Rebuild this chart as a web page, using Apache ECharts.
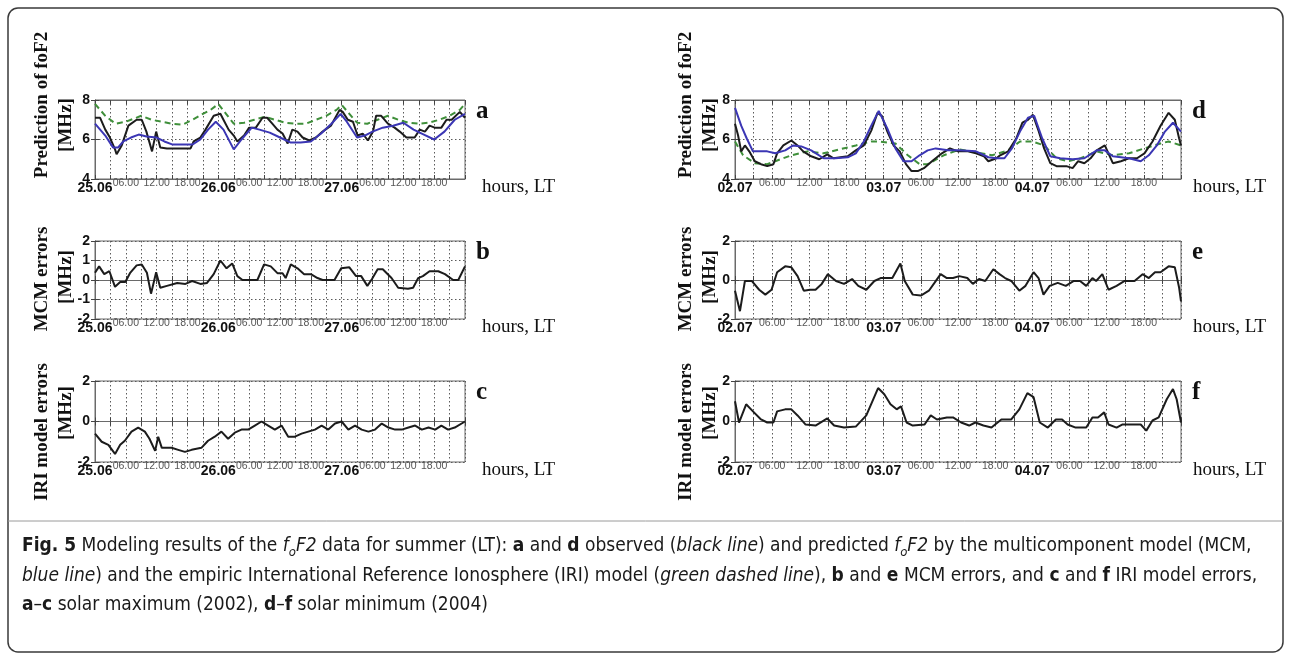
<!DOCTYPE html>
<html>
<head>
<meta charset="utf-8">
<title>foF2 modeling results, summer</title>
<script src="https://cdn.jsdelivr.net/npm/echarts@6/dist/echarts.min.js"></script>
<style>
  html, body { margin: 0; padding: 0; background: #ffffff; }
  #chart { width: 1290px; height: 663px; }
</style>
</head>
<body>
<div id="chart"></div>
<script>
// ---- x axis: hours from the start of each 3-day window ----
const daysMax = ['25.06', '26.06', '27.06'];
const daysMin = ['02.07', '03.07', '04.07'];
const hourLabels = { 6: '06.00', 12: '12.00', 18: '18.00' };

// ---- (a) solar maximum 2002: observed, MCM and IRI foF2 [MHz] as [hour, value] ----
const observedMax = [[0,7.1],[1,7.1],[2,6.5],[2.9,6.1],[3.9,5.5],[4.2,5.25],[5.2,5.7],[6.5,6.7],[8.1,7.0],[9.1,7.0],[10,6.4],[11.1,5.4],[11.9,6.4],[12.7,5.6],[14,5.55],[16,5.55],[18.6,5.55],[19.2,5.9],[20.5,6.1],[21.5,6.5],[23.1,7.2],[24.4,7.3],[25,7.0],[26,6.5],[27,6.2],[27.7,5.9],[29,6.2],[30,6.6],[31.3,6.6],[32.6,7.1],[33.5,7.1],[34.5,6.8],[35.5,6.5],[36.5,6.3],[37.5,5.8],[38.4,6.5],[39.4,6.4],[40.4,6.1],[41.7,5.95],[43,6.1],[44.3,6.4],[45.9,6.7],[47.6,7.5],[48.2,7.4],[49.2,7.0],[50.2,6.9],[51.1,6.2],[52.1,6.3],[53.1,5.95],[54.1,6.4],[54.7,7.2],[55.7,7.2],[57,6.8],[58.3,6.6],[59.3,6.4],[60.6,6.1],[62.2,6.1],[63.2,6.5],[64.2,6.4],[65.1,6.7],[66.1,6.6],[67.4,6.6],[68.4,7.0],[69.4,7.0],[71,7.4],[72,7.1]];
const mcmMax = [[0,6.8],[2,6.2],[3.5,5.6],[4.5,5.6],[5.5,5.9],[7,6.1],[8.5,6.25],[10,6.15],[12,6.1],[13.5,5.9],[15,5.75],[17,5.75],[19,5.75],[20.5,6.0],[22,6.5],[23.5,6.9],[25,6.5],[27,5.5],[28.5,6.0],[30.5,6.6],[32,6.5],[34,6.35],[36,6.1],[38,5.85],[40,5.85],[42,5.9],[44,6.3],[46,6.8],[47.8,7.3],[49,6.9],[51,6.1],[52.5,6.2],[54,6.4],[56,6.6],[58,6.7],[60,6.85],[62,6.5],[64,6.25],[66,6.0],[68,6.4],[70,7.0],[72,7.3]];
const iriMax = [[0,7.8],[2,7.2],[4,6.8],[6,6.9],[9,7.2],[11,7.0],[13,6.9],[15,6.8],[17,6.75],[19,7.0],[21,7.3],[22.5,7.5],[24,7.8],[25.5,7.3],[27,6.8],[29,6.85],[31,7.0],[33,7.15],[35,7.0],[37,6.85],[39,6.8],[41,6.8],[43,7.0],[45,7.2],[47,7.5],[48,7.75],[49.5,7.3],[51,6.85],[53,6.8],[55,7.0],[57,7.2],[59,7.0],[61,6.85],[63,6.8],[65,6.85],[67,7.0],[69,7.2],[71,7.5],[72,7.8]];

// ---- (b) MCM errors, (c) IRI errors, solar maximum [MHz] ----
const mcmErrMax = [[0,0.37],[0.8,0.7],[1.8,0.3],[2.8,0.45],[3.9,-0.35],[4.9,-0.1],[5.9,-0.1],[6.8,0.35],[8.1,0.75],[9.1,0.8],[10.1,0.37],[10.9,-0.7],[11.9,0.4],[12.7,-0.4],[14,-0.3],[16,-0.15],[17.6,-0.2],[18.9,-0.05],[20.5,-0.2],[21.8,-0.15],[23.1,0.3],[24.4,1.0],[25.6,0.6],[26.7,0.85],[27.7,0.2],[28.7,0.0],[31.6,0.0],[32.9,0.8],[34.2,0.7],[35.5,0.35],[36.5,0.35],[37.1,0.1],[38.1,0.8],[39.4,0.6],[40.7,0.3],[42,0.3],[43.3,0.1],[44.3,0.0],[46.6,0.0],[47.9,0.6],[49.5,0.65],[50.8,0.2],[51.8,0.2],[53,-0.3],[53.9,0.05],[55,0.55],[56,0.55],[57.7,0.1],[59,-0.4],[60.9,-0.45],[61.9,-0.4],[62.9,0.1],[63.8,0.2],[65.1,0.45],[66.8,0.45],[68.1,0.3],[69.7,0.0],[70.7,0.0],[72,0.7]];
const iriErrMax = [[0,-0.6],[1.3,-1.0],[2.6,-1.15],[3.9,-1.6],[4.9,-1.15],[5.8,-0.95],[7.1,-0.5],[8.4,-0.3],[9.7,-0.5],[10.6,-0.85],[11.7,-1.45],[12.3,-0.75],[13,-1.3],[14.9,-1.3],[16.2,-1.4],[17.5,-1.5],[18.8,-1.4],[20.7,-1.3],[22,-0.95],[23.3,-0.75],[24.6,-0.5],[25.9,-0.85],[27.2,-0.55],[28.5,-0.4],[29.8,-0.4],[31.1,-0.2],[32.4,0.0],[33.7,-0.2],[35,-0.4],[36.3,-0.2],[37.6,-0.75],[38.9,-0.75],[40.2,-0.6],[41.5,-0.5],[42.8,-0.4],[44.1,-0.2],[45.4,-0.4],[46.7,-0.1],[48,0.0],[49.3,-0.4],[50.6,-0.2],[51.9,-0.4],[53.2,-0.5],[54.5,-0.4],[55.8,-0.1],[57.1,-0.3],[58.4,-0.4],[59.7,-0.4],[61,-0.3],[62.3,-0.2],[63.6,-0.4],[64.9,-0.3],[66.2,-0.4],[67.4,-0.2],[68.7,-0.4],[70,-0.3],[72,0.0]];

// ---- (d) solar minimum 2004: observed, MCM and IRI foF2 [MHz] ----
const observedMin = [[0,6.8],[0.5,6.2],[1,5.4],[1.6,5.7],[2.3,5.4],[3.2,4.9],[4.2,4.75],[5.2,4.65],[6.2,4.75],[6.8,5.3],[7.8,5.7],[9.1,5.95],[10.1,5.7],[11,5.4],[12.3,5.15],[13.6,5.0],[14.9,5.25],[15.9,5.05],[18.2,5.15],[19.5,5.45],[20.8,5.7],[22,6.45],[23,7.35],[23.7,7.2],[24.6,6.4],[25.6,5.7],[26.6,5.4],[27.6,4.75],[28.5,4.4],[29.5,4.4],[30.5,4.55],[31.8,4.9],[33.4,5.3],[34.7,5.55],[36,5.4],[37.6,5.4],[38.9,5.3],[40.2,5.15],[40.9,4.9],[42.2,5.05],[42.8,5.2],[44.1,5.4],[45.4,6.05],[46.4,6.85],[47.3,7.0],[48.1,7.25],[49,6.45],[49.9,5.55],[50.9,4.8],[51.9,4.65],[53.5,4.65],[54.5,4.55],[55.4,4.9],[56.4,4.8],[57.4,5.05],[58.4,5.45],[59.7,5.7],[61,4.8],[62.3,4.9],[63.6,5.05],[64.9,5.05],[66.1,5.3],[67.4,5.9],[68.7,6.7],[70,7.35],[71,7.0],[71.7,6.05],[72,5.7]];
const mcmMin = [[0,7.6],[1,6.7],[1.9,6.05],[2.9,5.4],[5.2,5.4],[6.5,5.3],[8.1,5.45],[9.4,5.7],[10.7,5.65],[12.3,5.45],[14.3,5.05],[16.2,5.05],[18.2,5.1],[19.5,5.3],[20.8,5.9],[22,6.7],[23.2,7.45],[24.6,6.55],[25.9,5.55],[27.2,4.9],[28.5,4.9],[29.8,5.2],[31.1,5.45],[32.4,5.55],[34.4,5.45],[36.3,5.45],[38.9,5.4],[40.9,5.1],[42.2,5.05],[43.5,5.05],[44.7,5.55],[46,6.4],[47.3,7.1],[48.3,7.2],[49.6,6.05],[50.9,5.15],[52.5,5.05],[54.5,5.0],[56.4,5.05],[58.4,5.45],[59.7,5.45],[61,5.15],[63.6,5.05],[65.5,4.9],[66.8,5.2],[68.1,5.7],[69.4,6.4],[70.7,6.85],[72,6.4]];
const iriMin = [[0,5.9],[1.3,5.2],[3.2,4.8],[5.2,4.75],[6.5,4.9],[9.1,5.2],[11.7,5.4],[14.3,5.3],[16.9,5.5],[19.5,5.7],[22,5.9],[23.3,5.9],[25.9,5.8],[27.9,5.2],[29.8,4.75],[31.1,4.75],[33.7,5.2],[36.3,5.5],[38.9,5.35],[41.5,5.2],[44.1,5.45],[46,5.9],[48,5.9],[49.9,5.7],[51.9,5.05],[53.8,4.9],[55.8,5.05],[58.4,5.4],[61,5.2],[63.6,5.3],[66.1,5.55],[68.7,5.8],[70,5.9],[72,5.7]];

// ---- (e) MCM errors, (f) IRI errors, solar minimum [MHz] ----
const mcmErrMin = [[0,-0.55],[0.8,-1.6],[1.6,-0.05],[2.7,-0.05],[3.9,-0.5],[4.9,-0.75],[5.9,-0.5],[6.8,0.4],[8.1,0.7],[9.1,0.65],[10.1,0.2],[11.1,-0.55],[12.1,-0.5],[13,-0.5],[14,-0.2],[15,0.3],[16.3,-0.05],[17.6,-0.2],[18.9,0.05],[19.9,-0.3],[21.2,-0.5],[22.5,-0.05],[23.5,0.1],[25.4,0.1],[26.7,0.85],[27.4,-0.05],[28.7,-0.75],[30,-0.8],[31.3,-0.55],[32.2,-0.15],[33.2,0.3],[34.2,0.1],[35.2,0.1],[36.2,0.2],[37.5,0.1],[38.4,-0.2],[39.4,0.05],[40.4,-0.05],[41.7,0.55],[42.7,0.3],[43.6,0.1],[44.6,-0.05],[45.9,-0.55],[46.9,-0.3],[48.2,0.4],[49,0.1],[49.8,-0.75],[50.8,-0.3],[52.1,-0.15],[53.4,-0.3],[54.7,-0.05],[55.7,-0.05],[56.7,-0.3],[57.7,0.1],[58.3,-0.05],[59.3,0.3],[60.3,-0.5],[61.6,-0.3],[62.9,-0.05],[64.5,-0.05],[65.8,0.3],[66.8,0.1],[67.8,0.4],[68.7,0.4],[70,0.7],[71,0.65],[71.7,-0.4],[72,-1.1]];
const iriErrMin = [[0,1.0],[0.65,-0.05],[1.8,0.85],[2.9,0.5],[4.2,0.1],[5.2,-0.05],[6.2,-0.05],[6.8,0.5],[8.1,0.6],[9.1,0.6],[10.1,0.3],[11.4,-0.15],[13,-0.2],[14.9,0.15],[16,-0.2],[17.6,-0.3],[19.5,-0.25],[21.2,0.3],[23.1,1.65],[24.1,1.35],[25.1,0.85],[26.1,0.6],[26.8,0.75],[27.7,-0.05],[28.7,-0.2],[30.6,-0.15],[31.6,0.3],[32.6,0.1],[34.2,0.2],[35.2,0.2],[36.5,-0.05],[37.8,-0.2],[38.8,-0.05],[40.1,-0.2],[41.4,-0.3],[43,0.1],[44.6,0.1],[45.9,0.6],[47.2,1.4],[48.2,1.2],[49.2,-0.05],[50.5,-0.3],[51.8,0.1],[52.8,0.1],[53.7,-0.15],[55,-0.3],[56.7,-0.3],[57.7,0.2],[58.6,0.2],[59.6,0.45],[60.3,-0.15],[61.6,-0.3],[62.5,-0.15],[63.8,-0.15],[65.5,-0.15],[66.4,-0.45],[67.4,0.05],[68.4,0.2],[69.7,1.1],[70.7,1.6],[71.3,1.1],[72,-0.05]];

// ---- layout of the six panels ----
const COL_LEFT = [95, 735];
const COL_W = [370, 446];
const TITLE_X = [42, 686];
const LT_GAP = [17, 12];
const ROW_TOP = [100, 241, 381];
const ROW_H = [79, 78, 81];
const TITLE_Y = [[105, 125], [279, 277], [432, 413]];

const SERIF = '"Liberation Serif", "Times New Roman", serif';
const SANS = '"Liberation Sans", Arial, sans-serif';
const NARROW = '"Liberation Sans Narrow", "DejaVu Sans Condensed", sans-serif';

const COLOR_OBS = '#1c1c1c';
const COLOR_MCM = '#3b36b4';
const COLOR_IRI = '#3f8f3a';

const panels = [
  { col: 0, row: 0, letter: 'a', days: daysMax, yMin: 4, yMax: 8, yStep: 2, title: 'Prediction of foF2',
    series: [{ d: iriMax, c: COLOR_IRI, dash: true }, { d: observedMax, c: COLOR_OBS }, { d: mcmMax, c: COLOR_MCM }] },
  { col: 0, row: 1, letter: 'b', days: daysMax, yMin: -2, yMax: 2, yStep: 1, title: 'MCM errors',
    series: [{ d: mcmErrMax, c: COLOR_OBS }] },
  { col: 0, row: 2, letter: 'c', days: daysMax, yMin: -2, yMax: 2, yStep: 2, title: 'IRI model errors',
    series: [{ d: iriErrMax, c: COLOR_OBS }] },
  { col: 1, row: 0, letter: 'd', days: daysMin, yMin: 4, yMax: 8, yStep: 2, title: 'Prediction of foF2',
    series: [{ d: iriMin, c: COLOR_IRI, dash: true }, { d: observedMin, c: COLOR_OBS }, { d: mcmMin, c: COLOR_MCM }] },
  { col: 1, row: 1, letter: 'e', days: daysMin, yMin: -2, yMax: 2, yStep: 2, title: 'MCM errors',
    series: [{ d: mcmErrMin, c: COLOR_OBS }] },
  { col: 1, row: 2, letter: 'f', days: daysMin, yMin: -2, yMax: 2, yStep: 2, title: 'IRI model errors',
    series: [{ d: iriErrMin, c: COLOR_OBS }] }
];

const grid = [], xAxis = [], yAxis = [], series = [], graphic = [];
const dotted = { color: '#5a5a5a', width: 1, type: [1.5, 2.5] };

panels.forEach((p, i) => {
  const left = COL_LEFT[p.col], w = COL_W[p.col], top = ROW_TOP[p.row], h = ROW_H[p.row];
  grid.push({ left: left, top: top, width: w, height: h, show: true,
              borderColor: '#6a6a6a', borderWidth: 1, backgroundColor: 'transparent' });

  // bottom axis: day and hour labels, inward ticks, dotted 3-hour grid
  xAxis.push({
    type: 'value', gridIndex: i, min: 0, max: 72, interval: 3, position: 'bottom',
    axisLine: { show: true, lineStyle: { color: '#6a6a6a' } },
    axisTick: { show: true, inside: true, length: 4, lineStyle: { color: '#444' } },
    splitLine: { show: true, lineStyle: dotted },
    axisLabel: {
      show: true, margin: 2, color: '#111', showMinLabel: true, showMaxLabel: true,
      formatter: v => {
        if (v % 24 === 0 && v < 72) return '{d|' + p.days[v / 24] + '}';
        const hh = v % 24;
        if (hourLabels[hh]) return '{h|' + hourLabels[hh] + '}';
        return '';
      },
      rich: {
        d: { fontFamily: SANS, fontWeight: 'bold', fontSize: 14, color: '#111' },
        h: { fontFamily: SANS, fontSize: 10.5, color: '#555', padding: [-3, 0, 0, 0] }
      }
    }
  });
  // top axis: ticks only
  xAxis.push({
    type: 'value', gridIndex: i, min: 0, max: 72, interval: 3, position: 'top',
    axisLine: { show: true, lineStyle: { color: '#6a6a6a' } },
    axisTick: { show: true, inside: true, length: 4, lineStyle: { color: '#444' } },
    splitLine: { show: false }, axisLabel: { show: false }
  });
  yAxis.push({
    type: 'value', gridIndex: i, min: p.yMin, max: p.yMax, interval: p.yStep, position: 'left',
    axisLine: { show: true, lineStyle: { color: '#6a6a6a' } },
    axisTick: { show: true, inside: true, length: 4, lineStyle: { color: '#444' } },
    splitLine: { show: true, lineStyle: dotted },
    axisLabel: { margin: 5, fontFamily: SANS, fontWeight: 'bold', fontSize: 14, color: '#111' }
  });
  yAxis.push({
    type: 'value', gridIndex: i, min: p.yMin, max: p.yMax, interval: p.yStep, position: 'right',
    axisLine: { show: true, lineStyle: { color: '#6a6a6a' } },
    axisTick: { show: true, inside: true, length: 4, lineStyle: { color: '#444' } },
    splitLine: { show: false }, axisLabel: { show: false }
  });

  p.series.forEach(s => {
    series.push({
      type: 'line', xAxisIndex: 2 * i, yAxisIndex: 2 * i, data: s.d,
      showSymbol: false, symbol: 'none', smooth: false, clip: true,
      lineStyle: { color: s.c, width: 2, type: s.dash ? [6, 4] : 'solid' },
      z: s.dash ? 2 : 3, animation: false
    });
  });

  // panel letter, axis annotation and rotated y titles
  graphic.push({ type: 'text', left: left + w + 11, top: top - 1,
    style: { text: p.letter, font: 'bold 25px ' + SERIF, fill: '#111' } });
  graphic.push({ type: 'text', left: left + w + LT_GAP[p.col], top: top + h - 1,
    style: { text: 'hours, LT', font: '19px ' + SERIF, fill: '#111' } });
  const tx = TITLE_X[p.col];
  const ty = TITLE_Y[p.row];
  graphic.push({ type: 'text', x: tx, y: ty[0], rotation: Math.PI / 2,
    style: { text: p.title, font: 'bold 19px ' + SERIF, fill: '#111', align: 'center', verticalAlign: 'middle' } });
  graphic.push({ type: 'text', x: tx + 24, y: ty[1], rotation: Math.PI / 2,
    style: { text: '[MHz]', font: 'bold 19px ' + SERIF, fill: '#111', align: 'center', verticalAlign: 'middle' } });
});

// frame around figure and caption
graphic.push({ type: 'rect', shape: { x: 8, y: 8, width: 1275, height: 644, r: 10 },
  style: { fill: 'none', stroke: '#3a3a3a', lineWidth: 1.5 }, z: -1 });
graphic.push({ type: 'line', shape: { x1: 8, y1: 521, x2: 1283, y2: 521 },
  style: { stroke: '#9a9a9a', lineWidth: 1 } });

const CAP = 19;
const capRich = {
  b: { fontFamily: NARROW, fontWeight: 'bold', fontSize: CAP, fill: '#1a1a1a' },
  i: { fontFamily: NARROW, fontStyle: 'italic', fontSize: CAP, fill: '#1a1a1a' },
  s: { fontFamily: NARROW, fontStyle: 'italic', fontSize: 13, fill: '#1a1a1a', verticalAlign: 'bottom', lineHeight: 25 },
  n: { fontFamily: NARROW, fontSize: CAP, fill: '#1a1a1a' }
};
const captionLines = [
  '{b|Fig. 5}{n| Modeling results of the }{i|f}{s|o}{i|F2}{n| data for summer (LT): }{b|a}{n| and }{b|d}{n| observed (}{i|black line}{n|) and predicted }{i|f}{s|o}{i|F2}{n| by the multicomponent model (MCM,}',
  '{i|blue line}{n|) and the empiric International Reference Ionosphere (IRI) model (}{i|green dashed line}{n|), }{b|b}{n| and }{b|e}{n| MCM errors, and }{b|c}{n| and }{b|f}{n| IRI model errors,}',
  '{b|a}{n|–}{b|c}{n| solar maximum (2002), }{b|d}{n|–}{b|f}{n| solar minimum (2004)}'
];
captionLines.forEach((t, k) => {
  graphic.push({ type: 'text', left: 22, top: 537 + k * 29.5,
    style: { text: t, rich: capRich, font: CAP + 'px ' + NARROW, fill: '#1a1a1a' } });
});

const chart = echarts.init(document.getElementById('chart'), null, { renderer: 'canvas' });
chart.setOption({
  animation: false,
  backgroundColor: '#ffffff',
  grid: grid, xAxis: xAxis, yAxis: yAxis, series: series, graphic: graphic
});
</script>
</body>
</html>
